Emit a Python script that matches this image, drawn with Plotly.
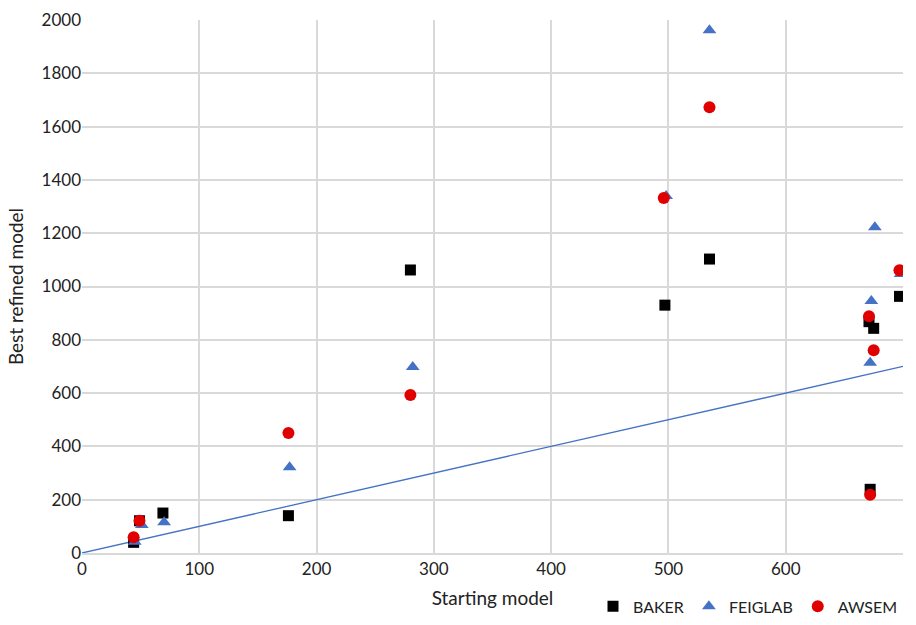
import plotly.graph_objects as go

baker_x = [44, 49, 69, 176, 280, 497, 535, 671, 675, 697, 672]
baker_y = [40, 121, 150, 140, 1062, 930, 1103, 868, 843, 963, 239]

feig_x = [45, 51, 70, 177, 282, 498, 535, 676, 673, 672, 698]
feig_y = [42, 105, 115, 322, 698, 1340, 1962, 1222, 946, 714, 1047]

awsem_x = [44, 49, 176, 280, 496, 535, 671, 675, 697, 672]
awsem_y = [59, 121, 450, 593, 1332, 1673, 888, 761, 1061, 219]

diag_x = [0, 700]
diag_y = [0, 700]

FONT = "Lato, 'Open Sans', sans-serif"

fig = go.Figure()
fig.add_trace(go.Scatter(x=diag_x, y=diag_y, mode="lines",
                         line=dict(color="#4472C4", width=1.3),
                         showlegend=False, hoverinfo="skip"))
fig.add_trace(go.Scatter(x=baker_x, y=baker_y, mode="markers", name="BAKER",
                         marker=dict(symbol="square", size=11, color="#000000")))
fig.add_trace(go.Scatter(x=feig_x, y=feig_y, mode="markers", name="FEIGLAB",
                         marker=dict(symbol="triangle-up", size=12, color="#4472C4")))
fig.add_trace(go.Scatter(x=awsem_x, y=awsem_y, mode="markers", name="AWSEM",
                         marker=dict(symbol="circle", size=12, color="#E00000")))

fig.update_layout(
    width=916, height=625,
    margin=dict(l=82, r=13, t=20, b=72, autoexpand=False),
    paper_bgcolor="white", plot_bgcolor="white",
    font=dict(family=FONT, size=17, color="#222222"),
    xaxis=dict(range=[0, 700], dtick=100, showgrid=True, gridcolor="#D9D9D9",
               gridwidth=1.5, zeroline=False, showline=True, linecolor="#D9D9D9",
               linewidth=1.5, ticks="", tickfont=dict(size=17), automargin=False,
               title=dict(text="Starting model", font=dict(size=19), standoff=14)),
    yaxis=dict(range=[0, 2000], dtick=200, showgrid=True, gridcolor="#D9D9D9",
               gridwidth=1.5, zeroline=False, showline=False, ticks="",
               tickfont=dict(size=17), automargin=False,
               title=dict(text="Best refined model", font=dict(size=19), standoff=12)),
    legend=dict(orientation="h", x=1, xanchor="right", y=-0.132, yanchor="bottom",
                font=dict(size=16), itemwidth=30, traceorder="normal"),
)

fig.write_html("out.html", config={"displayModeBar": False},
               post_script="document.body.style.margin='0';")
